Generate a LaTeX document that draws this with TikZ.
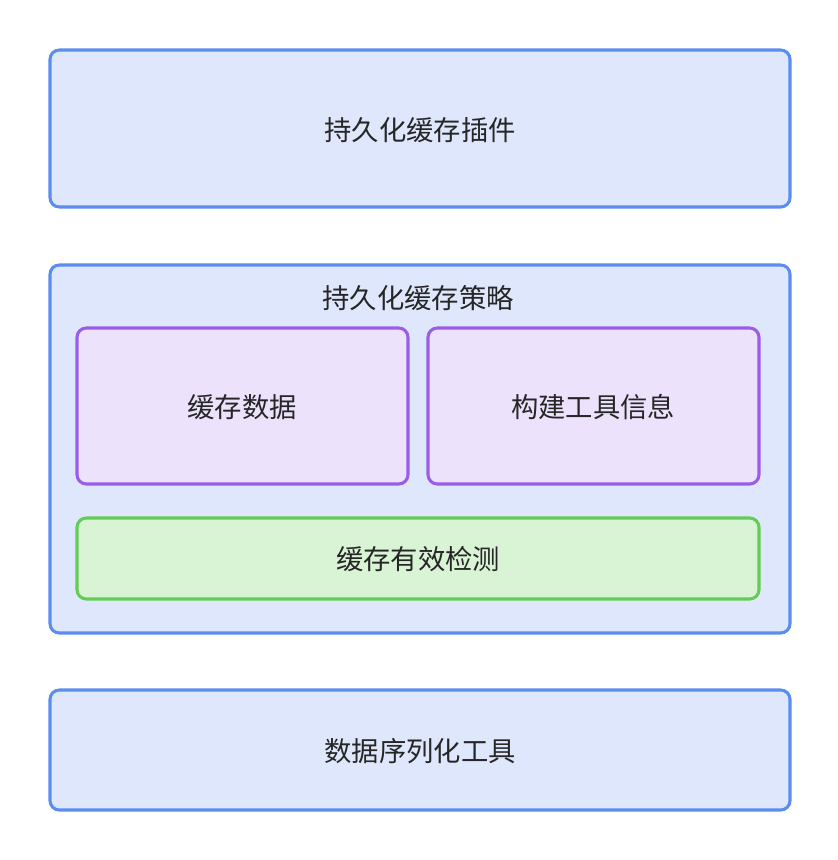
\documentclass[tikz,border=0pt]{standalone}
\usepackage{fontspec}
\setmainfont{Noto Sans CJK SC}
\definecolor{bfill}{HTML}{DFE7FC}
\definecolor{bline}{HTML}{5B8DEF}
\definecolor{pfill}{HTML}{ECE2FC}
\definecolor{pline}{HTML}{9B5DE5}
\definecolor{gfill}{HTML}{D9F3D5}
\definecolor{gline}{HTML}{62CC55}
\tikzset{
 box/.style={rounded corners=7pt,line width=2.3pt},
 bbox/.style={box,draw=bline,fill=bfill},
 pbox/.style={box,draw=pline,fill=pfill},
 gbox/.style={box,draw=gline,fill=gfill},
 lbl/.style={font=\fontsize{20.5}{24}\selectfont,text=black!85}
}
\begin{document}
\begin{tikzpicture}[x=0.75pt,y=-0.75pt]
\useasboundingbox[fill=white] (0,0) rectangle (838,860);
\draw[bbox] (50,50) rectangle (790,207) node[lbl] (t1) at (420,130) {持久化缓存插件};
\draw[bbox] (50,265) rectangle (790,633) node[lbl] (t2) at (418,298) {持久化缓存策略};
\draw[pbox] (77,328) rectangle (408,484) node[lbl] (t3) at (242,407) {缓存数据};
\draw[pbox] (428,328) rectangle (759,484) node[lbl] (t4) at (593,407) {构建工具信息};
\draw[gbox] (77,518) rectangle (759,599) node[lbl] (t5) at (418,559) {缓存有效检测};
\draw[bbox] (50,690) rectangle (790,810) node[lbl] (t6) at (420,751) {数据序列化工具};
\end{tikzpicture}
\end{document}
